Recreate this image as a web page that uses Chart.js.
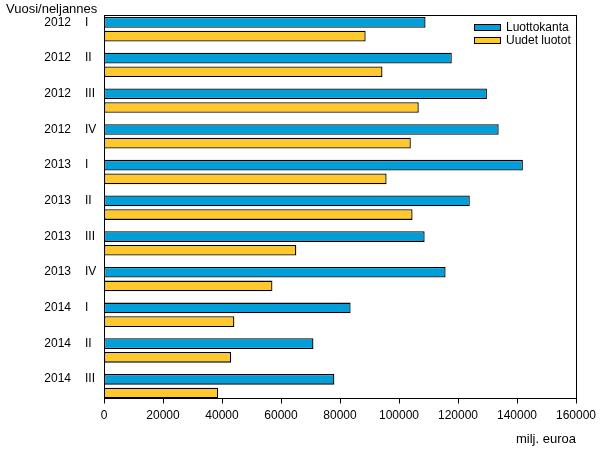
<!DOCTYPE html>
<html>
<head>
<meta charset="utf-8">
<script src="https://cdn.jsdelivr.net/npm/chart.js@4"></script>
<style>
  html, body { margin: 0; padding: 0; background: #fff; }
  #wrap { width: 600px; height: 450px; }
</style>
</head>
<body>
<div id="wrap"><canvas id="chart"></canvas></div>
<script>
// data
const years = ["2012", "2012", "2012", "2012", "2013", "2013", "2013", "2013", "2014", "2014", "2014"];
const quarters = ["I", "II", "III", "IV", "I", "II", "III", "IV", "I", "II", "III"];
const luottokanta = [109000, 117900, 129800, 133800, 142000, 124000, 108700, 115800, 83600, 71000, 78100];
const uudetLuotot = [88700, 94400, 106700, 104000, 95800, 104600, 65200, 57100, 44200, 43100, 38700];
const xTicks = [0, 20000, 40000, 60000, 80000, 100000, 120000, 140000, 160000];

const FONT = { family: "'Liberation Sans', Arial, sans-serif", size: 12 };
const TITLE_FONT = { family: FONT.family, size: 13, weight: "normal" };

// the plot box sits a bit inside the chart area: bars hug the bottom axis
function plotBox(chart) {
  const a = chart.chartArea;
  return {
    left: Math.round(a.left) + 0.5,
    right: Math.round(a.right) + 0.5,
    top: Math.round(a.top + 3.6) + 0.5,
    bottom: Math.round(a.bottom - 6) + 0.5
  };
}

// frame around the plot plus tick marks on the value axis
const frame = {
  id: "frame",
  afterDatasetsDraw(chart) {
    const b = plotBox(chart);
    const c = chart.ctx;
    const xs = chart.scales.x;
    c.save();
    c.strokeStyle = "#000";
    c.lineWidth = 1;
    c.strokeRect(b.left, b.top, b.right - b.left, b.bottom - b.top);
    c.beginPath();
    xTicks.forEach(v => {
      const px = Math.round(xs.getPixelForValue(v)) + 0.5;
      c.moveTo(px, b.bottom);
      c.lineTo(px, b.bottom + 5);
    });
    c.stroke();
    c.restore();
  }
};

// legend drawn inside the plot, top right
const innerLegend = {
  id: "innerLegend",
  afterDraw(chart) {
    const b = plotBox(chart);
    const c = chart.ctx;
    c.save();
    c.font = "12px " + FONT.family;
    c.textBaseline = "middle";
    c.textAlign = "left";
    chart.data.datasets.forEach((ds, i) => {
      const x = Math.round(b.right) - 103;
      const y = Math.round(b.top) + 8 + i * 13;
      c.fillStyle = ds.backgroundColor;
      c.fillRect(x, y, 27, 7);
      c.strokeStyle = "#000";
      c.lineWidth = 1;
      c.strokeRect(x + 0.5, y + 0.5, 26, 6);
      c.fillStyle = "#000";
      c.fillText(ds.label, x + 32, y + 3.5);
    });
    c.restore();
  }
};

// fixed width for the label axes, and no extra top/bottom room for their labels
const fixAxis = w => s => {
  s.width = w;
  s.paddingTop = 0;
  s.paddingBottom = 0;
};

const ctx = document.getElementById("chart").getContext("2d");
new Chart(ctx, {
  type: "bar",
  data: {
    labels: quarters,
    datasets: [
      {
        label: "Luottokanta",
        data: luottokanta,
        backgroundColor: "#009fda",
        borderColor: "#000",
        borderWidth: 1.3,
        borderSkipped: false,
        yAxisID: "y"
      },
      {
        label: "Uudet luotot",
        data: uudetLuotot,
        backgroundColor: "#ffc82c",
        borderColor: "#000",
        borderWidth: 1.3,
        borderSkipped: false,
        yAxisID: "y"
      }
    ]
  },
  options: {
    indexAxis: "y",
    responsive: true,
    maintainAspectRatio: false,
    animation: false,
    datasets: { bar: { categoryPercentage: 0.767, barPercentage: 0.78 } },
    layout: { padding: { left: 6, right: 4, top: 0, bottom: 3 } },
    scales: {
      x: {
        type: "linear",
        min: 0,
        max: 160000,
        afterBuildTicks: s => { s.ticks = xTicks.map(v => ({ value: v })); },
        ticks: { color: "#000", font: FONT, padding: 4, maxRotation: 0, callback: v => String(v) },
        grid: { display: false, drawTicks: false },
        border: { display: false },
        title: { display: true, text: "milj. euroa", align: "end", color: "#000", font: TITLE_FONT, padding: { top: 5, bottom: 0 } }
      },
      y: {
        type: "category",
        position: "left",
        weight: 1,
        offset: true,
        ticks: { color: "#000", font: FONT, crossAlign: "far", padding: 0, labelOffset: -7 },
        grid: { display: false, drawTicks: false },
        border: { display: false },
        afterFit: fixAxis(19)
      },
      yYear: {
        type: "category",
        position: "left",
        weight: 2,
        offset: true,
        labels: years,
        ticks: { color: "#000", font: FONT, crossAlign: "near", padding: 14, labelOffset: -7 },
        grid: { display: false, drawTicks: false },
        border: { display: false },
        afterFit: fixAxis(79)
      }
    },
    plugins: {
      legend: { display: false },
      tooltip: { enabled: false },
      title: {
        display: true,
        text: "Vuosi/neljannes",
        align: "start",
        color: "#000",
        font: TITLE_FONT,
        padding: { top: 1.5, bottom: -5.7 }
      }
    }
  },
  plugins: [frame, innerLegend]
});
</script>
</body>
</html>
